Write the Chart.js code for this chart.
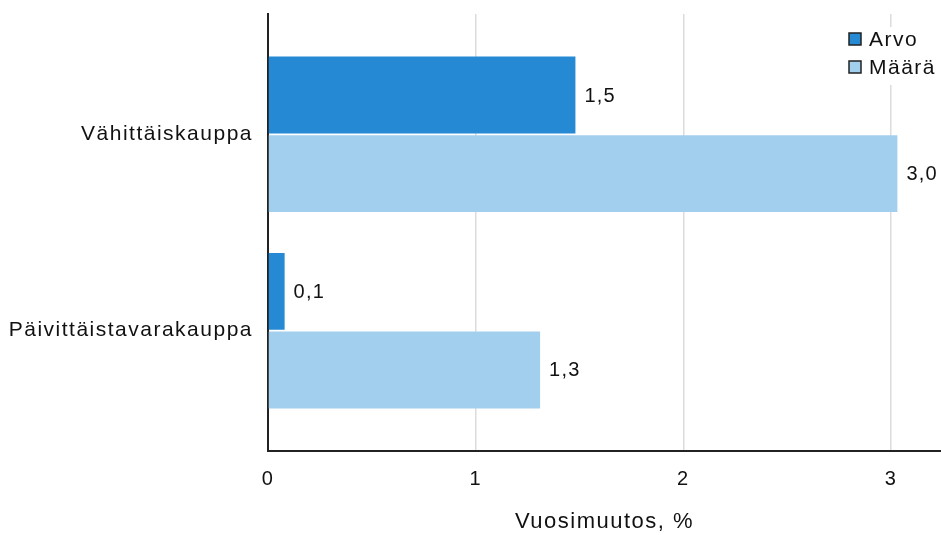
<!DOCTYPE html>
<html>
<head>
<meta charset="utf-8">
<script src="https://cdn.jsdelivr.net/npm/chart.js@4.4.0/dist/chart.umd.min.js"></script>
<style>
  html, body { margin: 0; padding: 0; background: #fff; }
  #wrap { width: 941px; height: 535px; }
</style>
</head>
<body>
<div id="wrap"><canvas id="myChart"></canvas></div>
<script>
var categories = ['Vähittäiskauppa', 'Päivittäistavarakauppa'];
var seriesNames = ['Arvo', 'Määrä'];
var arvo = [1.48, 0.08];
var maara = [3.03, 1.31];
var xTicks = [0, 1, 2, 3];

var colors = ['#2589d3', '#a3cfee'];
var FONT = "'Liberation Sans', Arial, sans-serif";
var SPACING = '1.5px';

function toPoints(arr){
  return arr.map(function(v, i){ return { x: v, y: i }; });
}

function fmt(v){
  return v.toFixed(1).replace('.', ',');
}

var spacingPlugin = {
  id: 'spacing',
  beforeUpdate: function(chart){ chart.ctx.letterSpacing = SPACING; },
  beforeDraw: function(chart){ chart.ctx.letterSpacing = SPACING; }
};

// value labels and legend box
var extrasPlugin = {
  id: 'extras',
  afterDatasetsDraw: function(chart){
    var ctx = chart.ctx;
    ctx.save();
    ctx.letterSpacing = '1.2px';
    ctx.font = '20px ' + FONT;
    ctx.fillStyle = '#111';
    ctx.textAlign = 'left';
    ctx.textBaseline = 'middle';
    chart.data.datasets.forEach(function(ds, di){
      chart.getDatasetMeta(di).data.forEach(function(bar, i){
        ctx.fillText(fmt(ds.data[i].x), bar.x + 9, bar.y + 1);
      });
    });

    // legend
    var lx = 846, ly = 27;
    ctx.fillStyle = '#fff';
    ctx.fillRect(lx, ly, 95, 58);
    ctx.font = '21px ' + FONT;
    ctx.letterSpacing = '1.5px';
    seriesNames.forEach(function(name, i){
      var y = 39 + i * 28;
      ctx.fillStyle = colors[i];
      ctx.fillRect(lx + 3, y - 6, 12, 12);
      ctx.strokeStyle = '#222';
      ctx.lineWidth = 1.5;
      ctx.strokeRect(lx + 3, y - 6, 12, 12);
      ctx.fillStyle = '#111';
      ctx.fillText(name, lx + 23, y + 1);
    });
    ctx.restore();
  }
};

var ctx = document.getElementById('myChart');
var chart = new Chart(ctx, {
  type: 'bar',
  data: {
    datasets: [
      { label: seriesNames[0], data: toPoints(arvo), backgroundColor: colors[0] },
      { label: seriesNames[1], data: toPoints(maara), backgroundColor: colors[1] }
    ]
  },
  options: {
    indexAxis: 'y',
    responsive: true,
    maintainAspectRatio: false,
    animation: false,
    categoryPercentage: 0.8,
    barPercentage: 0.98,
    layout: { padding: { top: 14, right: 0, left: 0, bottom: 0 } },
    plugins: {
      legend: { display: false },
      tooltip: { enabled: false }
    },
    scales: {
      x: {
        type: 'linear',
        min: 0,
        max: 3.24,
        grid: { color: '#dcdcdc', lineWidth: 1.5, drawTicks: false },
        border: { display: true, color: '#222', width: 2 },
        afterBuildTicks: function(scale){
          scale.ticks = xTicks.map(function(v){ return { value: v }; });
        },
        ticks: {
          padding: 16,
          color: '#111',
          font: { family: FONT, size: 20 },
          callback: function(v){ return String(v); }
        },
        title: {
          display: true,
          text: 'Vuosimuutos, %',
          color: '#111',
          font: { family: FONT, size: 22 },
          padding: { top: 0, bottom: 0 }
        },
        afterFit: function(scale){
          scale.height = 84;
          scale.paddingLeft = 0;
          scale.paddingRight = 0;
        }
      },
      y: {
        type: 'linear',
        reverse: true,
        offset: false,
        min: -0.613,
        max: 1.613,
        grid: { display: false, offset: false },
        border: { display: true, color: '#222', width: 2 },
        afterBuildTicks: function(scale){
          scale.ticks = categories.map(function(c, i){ return { value: i }; });
        },
        ticks: {
          padding: 7,
          color: '#111',
          font: { family: FONT, size: 21 },
          callback: function(v){ return categories[v]; }
        },
        afterFit: function(scale){
          scale.width = 268;
          scale.paddingTop = 0;
          scale.paddingBottom = 0;
        }
      }
    }
  },
  plugins: [spacingPlugin, extrasPlugin]
});
</script>
</body>
</html>
